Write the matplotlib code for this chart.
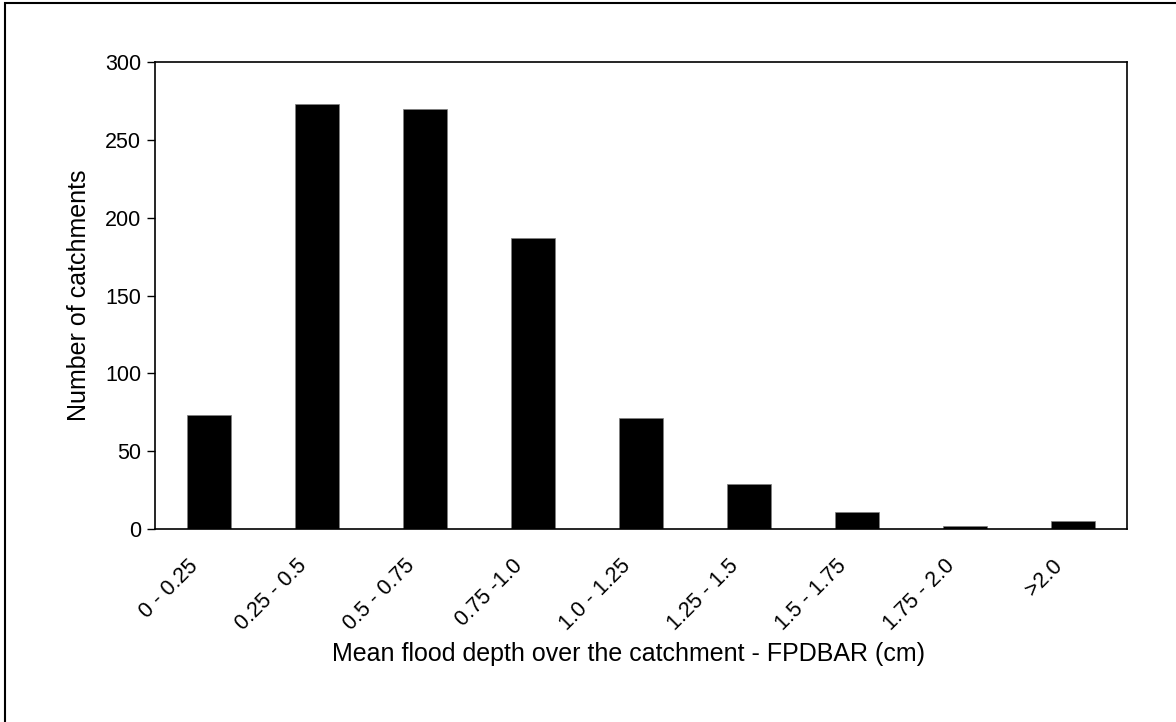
import numpy as np
import matplotlib.pyplot as plt
import matplotlib.transforms as mtransforms
from matplotlib.patches import Rectangle

plt.rcParams['font.family'] = ['Liberation Sans', 'DejaVu Sans']

bins = ['0 - 0.25', '0.25 - 0.5', '0.5 - 0.75', '0.75 -1.0', '1.0 - 1.25',
        '1.25 - 1.5', '1.5 - 1.75', '1.75 - 2.0', '>2.0']
counts = [73, 273, 270, 187, 71, 29, 11, 2, 5]

W, H = 1176, 722
fig = plt.figure(figsize=(W / 100, H / 100), dpi=100)
ax = fig.add_axes([155 / W, 1 - 529 / H, (1127 - 155) / W, (529 - 62) / H])

x = np.arange(len(bins))
ax.bar(x, counts, width=0.41, color='black', edgecolor='#7f7f7f', linewidth=0.5)

ax.set_xlim(-0.5, len(bins) - 0.5)
ax.set_ylim(0, 300)
ax.set_yticks(np.arange(0, 301, 50))
ax.set_xticks(x)
ax.set_xticklabels(bins, rotation=45, ha='right', va='top', rotation_mode='anchor')

ax.tick_params(axis='y', direction='out', length=6, width=1, labelsize=15.5, pad=4)
ax.tick_params(axis='x', length=0, labelsize=15.5, pad=19)
shift = mtransforms.ScaledTranslation(-0.21, 0, fig.dpi_scale_trans)
for lbl in ax.get_xticklabels():
    lbl.set_transform(lbl.get_transform() + shift)
for s in ax.spines.values():
    s.set_linewidth(1.2)

ax.set_ylabel('Number of catchments', fontsize=18, labelpad=10)
ax.set_xlabel('Mean flood depth over the catchment - FPDBAR (cm)', fontsize=18)
ax.xaxis.set_label_coords(0.487, -0.243)

# outer frame (only left/top visible in the original)
fig.patches.append(Rectangle((5 / W, -0.05), 1.1, 1 - 3 / H + 0.05, transform=fig.transFigure,
                             fill=False, edgecolor='black', linewidth=1.5, clip_on=False))

fig.savefig('out.png', dpi=100)
